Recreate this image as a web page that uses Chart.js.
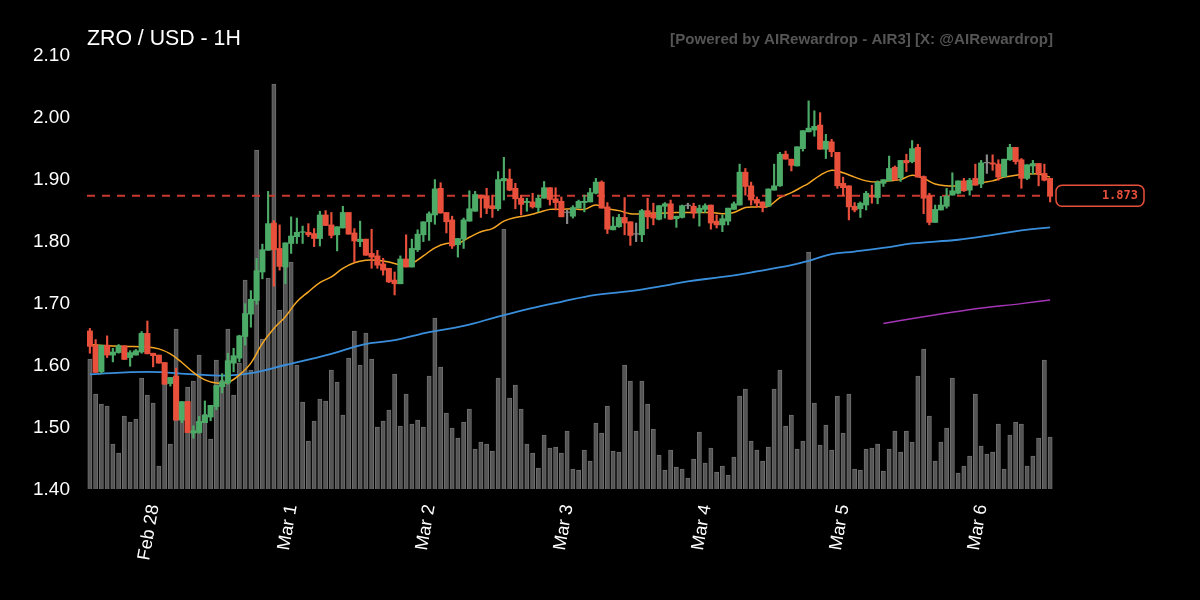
<!DOCTYPE html>
<html>
<head>
<meta charset="utf-8">
<title>ZRO / USD - 1H</title>
<script src="https://cdn.jsdelivr.net/npm/chart.js@4"></script>
<style>
  html, body { margin: 0; padding: 0; background: #000; }
  #wrap { width: 1200px; height: 600px; }
</style>
</head>
<body>
<div id="wrap"><canvas id="chart" width="1200" height="600"></canvas></div>
<script>
const titleText = "ZRO / USD - 1H";
const creditText = "[Powered by AIRewardrop - AIR3] [X: @AIRewardrop]";

// hourly candles
const opens = [
  1.655,1.632,1.589,1.632,1.616,1.620,1.631,1.612,1.616,1.621,
  1.651,1.619,1.616,1.604,1.570,1.582,1.511,1.541,1.490,1.491,
  1.507,1.516,1.533,1.565,1.571,1.603,1.611,1.646,1.682,1.704,
  1.750,1.785,1.829,1.788,1.758,1.796,1.807,1.814,1.814,1.812,
  1.804,1.842,1.826,1.810,1.821,1.846,1.813,1.799,1.803,1.780,
  1.776,1.763,1.756,1.737,1.731,1.771,1.758,1.786,1.810,1.831,
  1.842,1.885,1.846,1.834,1.794,1.803,1.832,1.848,1.874,1.873,
  1.857,1.852,1.897,1.900,1.885,1.869,1.862,1.863,1.854,1.869,
  1.886,1.868,1.864,1.846,1.840,1.853,1.862,1.863,1.877,1.895,
  1.855,1.818,1.823,1.838,1.831,1.811,1.810,1.849,1.844,1.835,
  1.856,1.860,1.836,1.838,1.857,1.856,1.846,1.851,1.858,1.832,
  1.826,1.832,1.851,1.858,1.911,1.889,1.867,1.863,1.856,1.882,
  1.889,1.940,1.932,1.921,1.949,1.976,1.979,1.987,1.948,1.960,
  1.943,1.893,1.889,1.856,1.852,1.858,1.874,1.870,1.893,1.897,
  1.919,1.902,1.930,1.928,1.951,1.904,1.873,1.830,1.850,1.856,
  1.874,1.877,1.897,1.882,1.901,1.892,1.926,1.926,1.924,1.904,
  1.931,1.951,1.931,1.901,1.921,1.925,1.909,1.901
];
const closes = [
  1.630,1.588,1.632,1.616,1.621,1.631,1.609,1.620,1.623,1.651,
  1.618,1.615,1.603,1.569,1.580,1.511,1.541,1.491,1.494,1.509,
  1.519,1.535,1.567,1.573,1.607,1.615,1.647,1.683,1.706,1.752,
  1.786,1.828,1.786,1.759,1.797,1.808,1.814,1.815,1.810,1.804,
  1.842,1.825,1.809,1.823,1.846,1.811,1.800,1.803,1.777,1.774,
  1.761,1.753,1.734,1.731,1.771,1.758,1.788,1.811,1.831,1.844,
  1.884,1.845,1.831,1.792,1.804,1.834,1.852,1.875,1.869,1.853,
  1.852,1.899,1.901,1.882,1.868,1.859,1.864,1.855,1.869,1.886,
  1.867,1.862,1.839,1.846,1.854,1.864,1.864,1.878,1.895,1.853,
  1.819,1.824,1.838,1.829,1.809,1.811,1.849,1.839,1.837,1.857,
  1.860,1.835,1.840,1.857,1.857,1.845,1.853,1.857,1.829,1.826,
  1.836,1.853,1.860,1.911,1.888,1.866,1.861,1.854,1.884,1.889,
  1.940,1.932,1.922,1.952,1.978,1.982,1.985,1.948,1.961,1.944,
  1.889,1.886,1.855,1.850,1.861,1.877,1.871,1.895,1.899,1.917,
  1.899,1.930,1.926,1.949,1.903,1.869,1.830,1.851,1.858,1.872,
  1.881,1.897,1.881,1.898,1.890,1.926,1.926,1.924,1.903,1.932,
  1.951,1.928,1.901,1.923,1.925,1.908,1.898,1.873
];
const highs = [
  1.659,1.641,1.632,1.647,1.627,1.633,1.631,1.623,1.625,1.654,
  1.671,1.619,1.616,1.604,1.580,1.595,1.541,1.541,1.502,1.517,
  1.542,1.535,1.567,1.586,1.619,1.627,1.648,1.699,1.720,1.772,
  1.795,1.880,1.833,1.826,1.797,1.839,1.837,1.824,1.828,1.820,
  1.848,1.849,1.846,1.823,1.856,1.846,1.820,1.832,1.803,1.819,
  1.785,1.772,1.756,1.750,1.776,1.810,1.803,1.818,1.831,1.847,
  1.899,1.894,1.846,1.840,1.804,1.837,1.881,1.880,1.874,1.885,
  1.874,1.912,1.935,1.916,1.893,1.874,1.869,1.877,1.874,1.896,
  1.886,1.886,1.871,1.850,1.857,1.866,1.874,1.885,1.901,1.897,
  1.862,1.839,1.843,1.870,1.831,1.829,1.851,1.869,1.861,1.857,
  1.862,1.866,1.840,1.858,1.861,1.861,1.858,1.860,1.858,1.842,
  1.842,1.853,1.863,1.924,1.917,1.895,1.871,1.863,1.884,1.924,
  1.943,1.945,1.932,1.952,1.978,2.026,2.010,2.007,1.972,1.964,
  1.943,1.903,1.889,1.862,1.863,1.880,1.890,1.897,1.899,1.937,
  1.921,1.930,1.940,1.962,1.956,1.905,1.877,1.858,1.872,1.885,
  1.910,1.897,1.901,1.901,1.924,1.930,1.939,1.939,1.931,1.932,
  1.956,1.951,1.933,1.923,1.930,1.925,1.924,1.901
];
const lows = [
  1.619,1.588,1.587,1.612,1.605,1.619,1.609,1.598,1.616,1.619,
  1.618,1.597,1.603,1.569,1.566,1.511,1.507,1.491,1.482,1.490,
  1.507,1.510,1.528,1.555,1.569,1.589,1.605,1.632,1.661,1.698,
  1.739,1.785,1.727,1.753,1.731,1.780,1.796,1.796,1.807,1.791,
  1.792,1.825,1.805,1.784,1.821,1.811,1.766,1.791,1.777,1.756,
  1.756,1.745,1.733,1.713,1.731,1.758,1.758,1.783,1.799,1.801,
  1.827,1.845,1.813,1.788,1.774,1.788,1.832,1.848,1.838,1.844,
  1.838,1.849,1.866,1.881,1.852,1.842,1.848,1.853,1.847,1.869,
  1.858,1.850,1.839,1.828,1.837,1.853,1.847,1.863,1.876,1.853,
  1.812,1.818,1.822,1.810,1.793,1.799,1.799,1.820,1.826,1.834,
  1.837,1.835,1.822,1.837,1.852,1.837,1.824,1.846,1.819,1.821,
  1.815,1.826,1.851,1.858,1.874,1.858,1.855,1.847,1.856,1.882,
  1.888,1.932,1.913,1.921,1.945,1.976,1.969,1.948,1.933,1.936,
  1.885,1.873,1.834,1.847,1.838,1.850,1.861,1.860,1.888,1.897,
  1.898,1.896,1.912,1.926,1.903,1.844,1.826,1.830,1.850,1.853,
  1.874,1.876,1.880,1.874,1.890,1.886,1.909,1.914,1.898,1.903,
  1.930,1.924,1.885,1.899,1.908,1.889,1.897,1.863
];
const volumes = [
  130,95,85,83,45,36,73,67,70,111,
  94,86,23,105,45,160,85,102,108,134,
  75,50,129,109,160,94,126,209,119,339,
  150,211,405,179,222,227,124,87,48,68,
  90,88,119,107,74,131,158,124,156,130,
  62,68,79,115,63,95,65,69,62,113,
  171,122,76,61,51,67,80,40,47,45,
  38,111,260,91,104,80,45,36,21,54,
  41,42,36,58,20,19,39,28,66,56,
  83,38,37,124,108,58,108,85,60,34,
  19,39,22,20,11,30,57,26,41,17,
  23,14,32,93,100,48,39,28,42,100,
  119,63,74,40,48,237,86,44,64,39,
  93,56,95,20,19,40,41,45,18,40,
  58,37,58,47,113,140,73,28,47,61,
  111,16,23,33,95,43,35,37,65,20,
  54,67,65,23,33,51,129,52
];

// moving averages, sampled along the curves: candle index + price
const fastIdx = [0,3,6,10,12,14,16,18,20,22,24,26,28,30,32,34,36,38,40,42,44,46,48,50,52,54,56,58,60,62,64,66,68,70,72,74,76,78,80,82,84,86,88,90,92,94,96,98,100,102,104,106,108,110,112,114,116,118,120,122,124,125,127,129,131,133,135,137,139,141,143,145,147,149,151,153,155,157,159,161,163,165,167];
const fastVal = [1.633,1.631,1.630,1.629,1.626,1.618,1.604,1.588,1.576,1.571,1.572,1.584,1.603,1.635,1.659,1.678,1.702,1.718,1.733,1.742,1.756,1.765,1.769,1.769,1.766,1.762,1.764,1.776,1.789,1.796,1.796,1.806,1.815,1.820,1.832,1.838,1.841,1.846,1.851,1.851,1.852,1.851,1.858,1.852,1.849,1.844,1.844,1.845,1.845,1.846,1.846,1.846,1.846,1.844,1.846,1.854,1.855,1.856,1.870,1.878,1.888,1.893,1.906,1.914,1.910,1.903,1.897,1.895,1.897,1.899,1.906,1.901,1.892,1.889,1.889,1.890,1.894,1.897,1.903,1.906,1.908,1.908,1.903];
const midIdx = [0,10,18,23,28,34,42,47.5,53,59,65,71,76.5,82,88,94,100,104,110,116,122,125,129,133,139,143,151,156.5,162,167];
const midVal = [1.585,1.589,1.585,1.583,1.587,1.600,1.618,1.633,1.640,1.653,1.663,1.678,1.691,1.702,1.713,1.719,1.728,1.735,1.742,1.751,1.761,1.768,1.779,1.783,1.790,1.796,1.802,1.809,1.817,1.822];
const slowIdx = [138,145,153.5,162,167];
const slowVal = [1.667,1.678,1.690,1.699,1.705];

const lastPrice = 1.873;
const yTicks = [1.4,1.5,1.6,1.7,1.8,1.9,2.0,2.1];
const dayIdx = [10,34,58,82,106,130,154];
const dayLabels = ["Feb 28","Mar 1","Mar 2","Mar 3","Mar 4","Mar 5","Mar 6"];

const GREEN = "#4dab68";
const RED = "#e8503c";
const DOJI = "#8a8a8a";

const candleColors = opens.map((o, i) =>
  o === closes[i] ? DOJI : closes[i] > o ? GREEN : RED
);
const pairs = (xs, ys) => xs.map((x, i) => ({ x: x, y: ys[i] }));

// title, credit and the price tag on the right
const overlay = {
  id: "overlay",
  beforeDraw(chart) {
    const c = chart.ctx;
    c.save();
    c.fillStyle = "#000";
    c.fillRect(0, 0, chart.width, chart.height);
    c.restore();
  },
  afterDraw(chart) {
    const c = chart.ctx;
    const y = chart.scales.y.getPixelForValue(lastPrice);
    c.save();
    c.textBaseline = "alphabetic";
    c.fillStyle = "#fff";
    c.textAlign = "left";
    c.font = "21.3px 'Liberation Sans'";
    c.fillText(titleText, 87, 45);
    c.fillStyle = "#555";
    c.textAlign = "right";
    c.font = "bold 15.1px 'Liberation Sans'";
    c.fillText(creditText, 1053, 44);

    c.beginPath();
    c.roundRect(1056, y - 10.5, 88, 21, 6);
    c.fillStyle = "#000";
    c.fill();
    c.strokeStyle = RED;
    c.lineWidth = 1.5;
    c.stroke();
    c.fillStyle = RED;
    c.font = "bold 12px 'DejaVu Sans Mono'";
    c.textBaseline = "middle";
    c.fillText(lastPrice.toFixed(3), 1138, y + 0.5);
    c.restore();
  },
};

const ctx = document.getElementById("chart").getContext("2d");
new Chart(ctx, {
  data: {
    datasets: [
      {
        type: "bar",
        label: "Volume",
        data: pairs(opens.map((_, i) => i), volumes),
        yAxisID: "yVol",
        backgroundColor: "#555555",
        borderColor: "#6f6f6f",
        borderWidth: 1,
        barThickness: 4.2,
        grouped: false,
        order: 5,
      },
      {
        type: "line",
        label: "EMA fast",
        data: pairs(fastIdx, fastVal),
        borderColor: "#f5a623",
        borderWidth: 1.5,
        pointRadius: 0,
        tension: 0.4,
        order: 4,
      },
      {
        type: "line",
        label: "EMA mid",
        data: pairs(midIdx, midVal),
        borderColor: "#3a8fdc",
        borderWidth: 1.8,
        pointRadius: 0,
        tension: 0.4,
        order: 4,
      },
      {
        type: "line",
        label: "EMA slow",
        data: pairs(slowIdx, slowVal),
        borderColor: "#a335b5",
        borderWidth: 1.5,
        pointRadius: 0,
        tension: 0.3,
        order: 4,
      },
      {
        type: "line",
        label: "Last",
        data: [{ x: -0.5, y: lastPrice }, { x: 167.5, y: lastPrice }],
        borderColor: "#c93a30",
        borderWidth: 2,
        borderDash: [8, 7],
        pointRadius: 0,
        order: 3,
      },
      {
        type: "bar",
        label: "Wick",
        data: highs.map((h, i) => ({ x: i, y: [lows[i], h] })),
        backgroundColor: candleColors,
        barThickness: 1.5,
        grouped: false,
        order: 2,
      },
      {
        type: "bar",
        label: "Body",
        data: opens.map((o, i) => ({ x: i, y: [o, o === closes[i] ? o + 0.0008 : closes[i]] })),
        backgroundColor: candleColors,
        barThickness: 5.4,
        grouped: false,
        order: 1,
      },
    ],
  },
  options: {
    responsive: false,
    animation: false,
    devicePixelRatio: 1,
    layout: { padding: { top: 55, right: 147, left: 0, bottom: 0 } },
    plugins: { legend: { display: false }, tooltip: { enabled: false } },
    scales: {
      x: {
        type: "linear",
        min: -0.5,
        max: 167.5,
        offset: false,
        grid: { display: false },
        border: { display: false },
        afterBuildTicks(axis) {
          axis.ticks = dayIdx.map((v) => ({ value: v }));
        },
        afterFit(axis) { axis.height = 111; },
        ticks: {
          color: "#fff",
          font: { family: "Liberation Sans", size: 18 },
          minRotation: 80,
          maxRotation: 80,
          autoSkip: false,
          padding: 6,
          labelOffset: 6.5,
          callback(v) { return dayLabels[dayIdx.indexOf(v)]; },
        },
      },
      y: {
        min: 1.4,
        max: 2.1,
        grid: { display: false, drawTicks: false },
        border: { display: false },
        afterBuildTicks(axis) {
          axis.ticks = yTicks.map((v) => ({ value: v }));
        },
        afterFit(axis) { axis.width = 87; },
        ticks: {
          color: "#fff",
          font: { family: "Liberation Sans", size: 19 },
          padding: 17,
          labelOffset: 1,
          callback(v) { return v.toFixed(2); },
        },
      },
      yVol: {
        display: false,
        min: 0,
        max: 434,
      },
    },
  },
  plugins: [overlay],
});
</script>
</body>
</html>
